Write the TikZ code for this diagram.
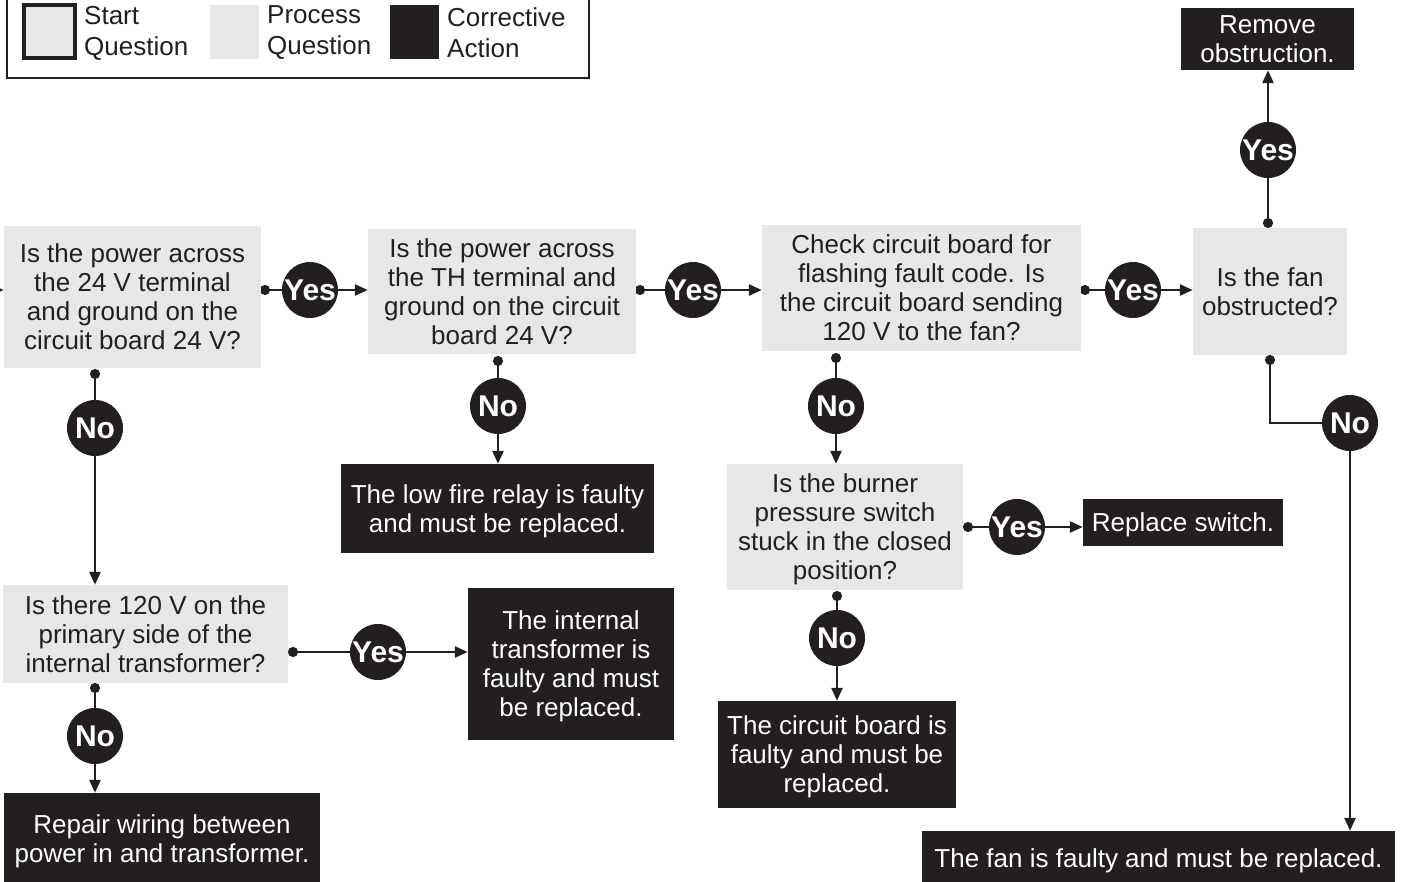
\documentclass[tikz,border=0pt]{standalone}
\usepackage{fontspec}
\setmainfont{Liberation Sans}
\usetikzlibrary{arrows.meta,backgrounds}
\definecolor{ink}{HTML}{231F20}
\definecolor{pale}{HTML}{E6E7E8}
\tikzset{
  gbox/.style={rectangle, fill=pale, text=ink, align=center, inner sep=0pt,
    text depth=0pt, font=\fontsize{26}{29}\selectfont},
  bbox/.style={rectangle, fill=ink, text=white, align=center, inner sep=0pt,
    text depth=0pt, font=\fontsize{26}{29}\selectfont},
  yn/.style={circle, fill=ink, text=white, minimum size=56pt, inner sep=0pt,
    font=\fontsize{30}{30}\bfseries\selectfont},
  conn/.style={draw=ink, line width=2.5pt,
    {Circle[length=10pt]}-{Triangle[length=13pt,width=11pt]}},
  lgtext/.style={anchor=west, align=left, inner sep=0pt, text=ink,
    font=\fontsize{26}{31}\selectfont},
}
\begin{document}
\begin{tikzpicture}[x=1pt,y=-1pt]
\useasboundingbox (0,0) rectangle (1411,882);

% legend
\draw[ink, line width=2pt] (7,-10) rectangle (589,78);
\filldraw[fill=pale, draw=ink, line width=4pt] (24,5) rectangle (75,58);
\fill[pale] (210,5) rectangle (259,59);
\fill[ink] (390,5) rectangle (439,59);
\node[lgtext] (lg1) at (84,33) {Start\\Question};
\node[lgtext] (lg2) at (267,33) {Process\\Question};
\node[lgtext] (lg3) at (447,33) {Corrective\\Action};

% boxes
\node[gbox, minimum width=257pt, minimum height=142pt] (A) at (132.5,297) {Is the power across\\the 24 V terminal\\and ground on the\\circuit board 24 V?};
\node[gbox, minimum width=268pt, minimum height=125pt] (B) at (502,291.5) {Is the power across\\the TH terminal and\\ground on the circuit\\board 24 V?};
\node[gbox, minimum width=319pt, minimum height=126pt] (C) at (921.5,288) {Check circuit board for\\flashing fault code. Is\\the circuit board sending\\120 V to the fan?};
\node[gbox, minimum width=154pt, minimum height=127pt] (D) at (1270,291.5) {Is the fan\\obstructed?};
\node[bbox, minimum width=173pt, minimum height=62pt] (E) at (1267.5,39) {Remove\\obstruction.};
\node[bbox, minimum width=473pt, minimum height=54pt] (F) at (1158.5,858) {The fan is faulty and must be replaced.};
\node[gbox, minimum width=285pt, minimum height=98pt] (G) at (145.5,634) {Is there 120 V on the\\primary side of the\\internal transformer?};
\node[bbox, minimum width=206pt, minimum height=152pt] (H) at (571,664) {The internal\\transformer is\\faulty and must\\be replaced.};
\node[bbox, minimum width=316pt, minimum height=92pt] (I) at (162,839) {Repair wiring between\\power in and transformer.};
\node[bbox, minimum width=313pt, minimum height=89pt] (J) at (497.5,508.5) {The low fire relay is faulty\\and must be replaced.};
\node[gbox, minimum width=236pt, minimum height=126pt] (K) at (845,527) {Is the burner\\pressure switch\\stuck in the closed\\position?};
\node[bbox, minimum width=200pt, minimum height=47pt] (L) at (1183,522.5) {Replace switch.};
\node[bbox, minimum width=238pt, minimum height=107pt] (M) at (837,754.5) {The circuit board is\\faulty and must be\\replaced.};

% yes / no markers
\node[yn] (yA) at (310,290) {Yes};
\node[yn] (yB) at (693,290) {Yes};
\node[yn] (yC) at (1133,290) {Yes};
\node[yn] (yD) at (1268,150) {Yes};
\node[yn] (nD) at (1350,423) {No};
\node[yn] (nA) at (95,428) {No};
\node[yn] (yG) at (378,652) {Yes};
\node[yn] (nG) at (95,736) {No};
\node[yn] (nB) at (498,406) {No};
\node[yn] (nC) at (836,406) {No};
\node[yn] (yK) at (1017,527) {Yes};
\node[yn] (nK) at (837,638) {No};

% start points of connectors
\coordinate (sA) at (260,290);
\coordinate (sB) at (635,290);
\coordinate (sC) at (1080,290);
\coordinate (sDu) at (1268,228);
\coordinate (sDd) at (1270,355);
\coordinate (sAd) at (95,369);
\coordinate (sG) at (288,652);
\coordinate (sGd) at (95,683);
\coordinate (sBd) at (498,356);
\coordinate (sCd) at (836,353);
\coordinate (sK) at (963,527);
\coordinate (sKd) at (837,591);
\coordinate (in) at (-30,290);

\begin{scope}[on background layer]
\draw[conn] (sA) -- (yA.center) -- (yA.center -| B.west);
\draw[conn] (sB) -- (yB.center) -- (yB.center -| C.west);
\draw[conn] (sC) -- (yC.center) -- (yC.center -| D.west);
\draw[conn] (sDu) -- (yD.center) -- (yD.center |- E.south);
\draw[conn] (sDd) |- (nD.center) -- (nD.center |- F.north);
\draw[conn] (sAd) -- (nA.center) -- (nA.center |- G.north);
\draw[conn] (sG) -- (yG.center) -- (yG.center -| H.west);
\draw[conn] (sGd) -- (nG.center) -- (nG.center |- I.north);
\draw[conn] (sBd) -- (nB.center) -- (nB.center |- J.north);
\draw[conn] (sCd) -- (nC.center) -- (nC.center |- K.north);
\draw[conn] (sK) -- (yK.center) -- (yK.center -| L.west);
\draw[conn] (sKd) -- (nK.center) -- (nK.center |- M.north);
\draw[draw=ink, line width=2.5pt, -{Triangle[length=13pt,width=11pt]}] (in) -- (in -| A.west);
\end{scope}
\end{tikzpicture}
\end{document}
